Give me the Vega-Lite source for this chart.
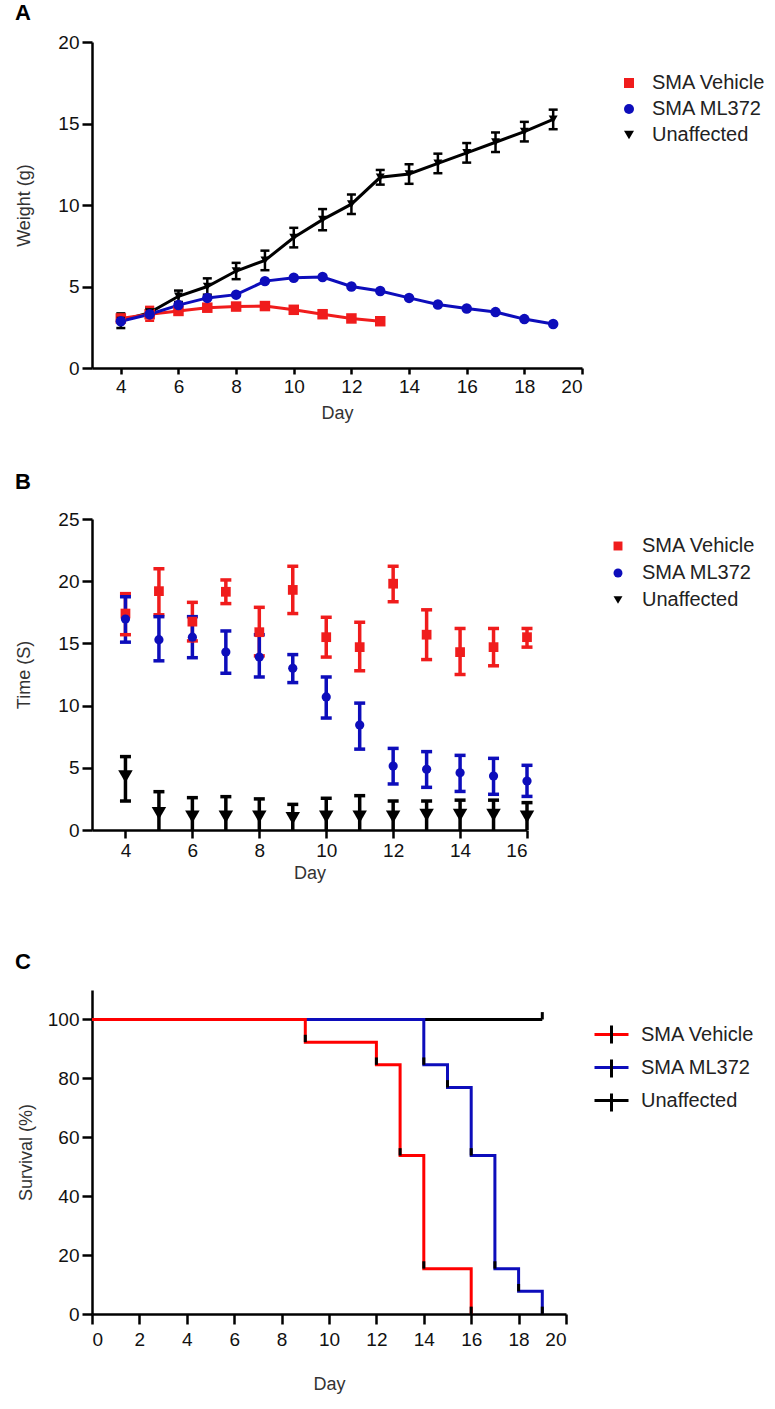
{
  "$schema": "https://vega.github.io/schema/vega-lite/v6.json",
  "background": "white",
  "padding": {"left": 15, "top": 2, "right": 5, "bottom": 5},
  "spacing": 151,
  "bounds": "flush",
  "resolve": {"scale": {"color": "independent", "shape": "independent"}, "legend": {"color": "independent", "shape": "independent"}},
  "datasets": {
    "wA": [
      {"g": "Unaffected", "day": 4, "m": 2.9, "lo": 2.45, "hi": 3.35},
      {"g": "Unaffected", "day": 5, "m": 3.4, "lo": 3.1, "hi": 3.7},
      {"g": "Unaffected", "day": 6, "m": 4.4, "lo": 4.05, "hi": 4.75},
      {"g": "Unaffected", "day": 7, "m": 5.0, "lo": 4.5, "hi": 5.5},
      {"g": "Unaffected", "day": 8, "m": 5.95, "lo": 5.45, "hi": 6.45},
      {"g": "Unaffected", "day": 9, "m": 6.6, "lo": 6.0, "hi": 7.2},
      {"g": "Unaffected", "day": 10, "m": 8.0, "lo": 7.4, "hi": 8.6},
      {"g": "Unaffected", "day": 11, "m": 9.1, "lo": 8.45, "hi": 9.75},
      {"g": "Unaffected", "day": 12, "m": 10.05, "lo": 9.45, "hi": 10.65},
      {"g": "Unaffected", "day": 13, "m": 11.7, "lo": 11.25, "hi": 12.15},
      {"g": "Unaffected", "day": 14, "m": 11.9, "lo": 11.3, "hi": 12.5},
      {"g": "Unaffected", "day": 15, "m": 12.55, "lo": 11.95, "hi": 13.15},
      {"g": "Unaffected", "day": 16, "m": 13.2, "lo": 12.6, "hi": 13.8},
      {"g": "Unaffected", "day": 17, "m": 13.85, "lo": 13.25, "hi": 14.45},
      {"g": "Unaffected", "day": 18, "m": 14.5, "lo": 13.9, "hi": 15.1},
      {"g": "Unaffected", "day": 19, "m": 15.25, "lo": 14.65, "hi": 15.85},
      {"g": "SMA Vehicle", "day": 4, "m": 3.04, "lo": 2.85, "hi": 3.25},
      {"g": "SMA Vehicle", "day": 5, "m": 3.3, "lo": 2.9, "hi": 3.75},
      {"g": "SMA Vehicle", "day": 6, "m": 3.5, "lo": 3.3, "hi": 3.7},
      {"g": "SMA Vehicle", "day": 7, "m": 3.7, "lo": 3.5, "hi": 3.9},
      {"g": "SMA Vehicle", "day": 8, "m": 3.77, "lo": 3.57, "hi": 3.97},
      {"g": "SMA Vehicle", "day": 9, "m": 3.8, "lo": 3.6, "hi": 4.0},
      {"g": "SMA Vehicle", "day": 10, "m": 3.57, "lo": 3.4, "hi": 3.75},
      {"g": "SMA Vehicle", "day": 11, "m": 3.3, "lo": 3.12, "hi": 3.48},
      {"g": "SMA Vehicle", "day": 12, "m": 3.04, "lo": 2.88, "hi": 3.2},
      {"g": "SMA Vehicle", "day": 13, "m": 2.87, "lo": 2.72, "hi": 3.02},
      {"g": "SMA ML372", "day": 4, "m": 2.87, "lo": 2.72, "hi": 3.02},
      {"g": "SMA ML372", "day": 5, "m": 3.3, "lo": 3.15, "hi": 3.45},
      {"g": "SMA ML372", "day": 6, "m": 3.86, "lo": 3.71, "hi": 4.01},
      {"g": "SMA ML372", "day": 7, "m": 4.3, "lo": 4.15, "hi": 4.45},
      {"g": "SMA ML372", "day": 8, "m": 4.5, "lo": 4.35, "hi": 4.65},
      {"g": "SMA ML372", "day": 9, "m": 5.33, "lo": 5.18, "hi": 5.48},
      {"g": "SMA ML372", "day": 10, "m": 5.54, "lo": 5.39, "hi": 5.69},
      {"g": "SMA ML372", "day": 11, "m": 5.58, "lo": 5.43, "hi": 5.73},
      {"g": "SMA ML372", "day": 12, "m": 5.0, "lo": 4.85, "hi": 5.15},
      {"g": "SMA ML372", "day": 13, "m": 4.72, "lo": 4.57, "hi": 4.87},
      {"g": "SMA ML372", "day": 14, "m": 4.3, "lo": 4.15, "hi": 4.45},
      {"g": "SMA ML372", "day": 15, "m": 3.9, "lo": 3.75, "hi": 4.05},
      {"g": "SMA ML372", "day": 16, "m": 3.65, "lo": 3.5, "hi": 3.8},
      {"g": "SMA ML372", "day": 17, "m": 3.43, "lo": 3.28, "hi": 3.58},
      {"g": "SMA ML372", "day": 18, "m": 3.0, "lo": 2.85, "hi": 3.15},
      {"g": "SMA ML372", "day": 19, "m": 2.7, "lo": 2.55, "hi": 2.85}
    ],
    "tB": [
      {"g": "Unaffected", "day": 4, "m": 4.3, "lo": 2.33, "hi": 5.9},
      {"g": "Unaffected", "day": 5, "m": 1.34, "lo": 0, "hi": 3.08},
      {"g": "Unaffected", "day": 6, "m": 1.07, "lo": 0, "hi": 2.6},
      {"g": "Unaffected", "day": 7, "m": 1.07, "lo": 0, "hi": 2.68},
      {"g": "Unaffected", "day": 8, "m": 1.07, "lo": 0, "hi": 2.5},
      {"g": "Unaffected", "day": 9, "m": 0.94, "lo": 0, "hi": 2.06},
      {"g": "Unaffected", "day": 10, "m": 1.07, "lo": 0, "hi": 2.55},
      {"g": "Unaffected", "day": 11, "m": 1.07, "lo": 0, "hi": 2.76},
      {"g": "Unaffected", "day": 12, "m": 1.07, "lo": 0, "hi": 2.33},
      {"g": "Unaffected", "day": 13, "m": 1.2, "lo": 0, "hi": 2.33},
      {"g": "Unaffected", "day": 14, "m": 1.2, "lo": 0, "hi": 2.4},
      {"g": "Unaffected", "day": 15, "m": 1.2, "lo": 0, "hi": 2.4},
      {"g": "Unaffected", "day": 16, "m": 1.07, "lo": 0, "hi": 2.2},
      {"g": "SMA Vehicle", "day": 4, "m": 17.4, "lo": 15.7, "hi": 19.0},
      {"g": "SMA Vehicle", "day": 5, "m": 19.2, "lo": 17.3, "hi": 21.0},
      {"g": "SMA Vehicle", "day": 6, "m": 16.75, "lo": 15.2, "hi": 18.3},
      {"g": "SMA Vehicle", "day": 7, "m": 19.15, "lo": 18.2, "hi": 20.1},
      {"g": "SMA Vehicle", "day": 8, "m": 15.9, "lo": 14.0, "hi": 17.9},
      {"g": "SMA Vehicle", "day": 9, "m": 19.3, "lo": 17.4, "hi": 21.2},
      {"g": "SMA Vehicle", "day": 10, "m": 15.5, "lo": 13.9, "hi": 17.1},
      {"g": "SMA Vehicle", "day": 11, "m": 14.7, "lo": 12.8, "hi": 16.7},
      {"g": "SMA Vehicle", "day": 12, "m": 19.8, "lo": 18.35, "hi": 21.2},
      {"g": "SMA Vehicle", "day": 13, "m": 15.7, "lo": 13.7, "hi": 17.7},
      {"g": "SMA Vehicle", "day": 14, "m": 14.3, "lo": 12.5, "hi": 16.2},
      {"g": "SMA Vehicle", "day": 15, "m": 14.7, "lo": 13.2, "hi": 16.2},
      {"g": "SMA Vehicle", "day": 16, "m": 15.5, "lo": 14.7, "hi": 16.2},
      {"g": "SMA ML372", "day": 4, "m": 16.96, "lo": 15.1, "hi": 18.75},
      {"g": "SMA ML372", "day": 5, "m": 15.3, "lo": 13.6, "hi": 17.15},
      {"g": "SMA ML372", "day": 6, "m": 15.5, "lo": 13.85, "hi": 17.15},
      {"g": "SMA ML372", "day": 7, "m": 14.3, "lo": 12.6, "hi": 16.0},
      {"g": "SMA ML372", "day": 8, "m": 13.9, "lo": 12.3, "hi": 15.7},
      {"g": "SMA ML372", "day": 9, "m": 13.0, "lo": 11.85, "hi": 14.1},
      {"g": "SMA ML372", "day": 10, "m": 10.7, "lo": 9.0, "hi": 12.3},
      {"g": "SMA ML372", "day": 11, "m": 8.44, "lo": 6.5, "hi": 10.2},
      {"g": "SMA ML372", "day": 12, "m": 5.14, "lo": 3.7, "hi": 6.56},
      {"g": "SMA ML372", "day": 13, "m": 4.88, "lo": 3.43, "hi": 6.3},
      {"g": "SMA ML372", "day": 14, "m": 4.6, "lo": 3.1, "hi": 6.0},
      {"g": "SMA ML372", "day": 15, "m": 4.34, "lo": 2.87, "hi": 5.76},
      {"g": "SMA ML372", "day": 16, "m": 3.94, "lo": 2.7, "hi": 5.2}
    ],
    "sC": [
      {"g": "Unaffected", "day": 0, "s": 100},
      {"g": "Unaffected", "day": 19, "s": 100},
      {"g": "SMA ML372", "day": 0, "s": 100},
      {"g": "SMA ML372", "day": 14, "s": 84.6},
      {"g": "SMA ML372", "day": 15, "s": 76.9},
      {"g": "SMA ML372", "day": 16, "s": 53.8},
      {"g": "SMA ML372", "day": 17, "s": 15.4},
      {"g": "SMA ML372", "day": 18, "s": 7.7},
      {"g": "SMA ML372", "day": 19, "s": 0},
      {"g": "SMA Vehicle", "day": 0, "s": 100},
      {"g": "SMA Vehicle", "day": 9, "s": 92.3},
      {"g": "SMA Vehicle", "day": 12, "s": 84.6},
      {"g": "SMA Vehicle", "day": 13, "s": 53.8},
      {"g": "SMA Vehicle", "day": 14, "s": 15.4},
      {"g": "SMA Vehicle", "day": 16, "s": 0}
    ],
    "cC": [
      {"day": 9, "lo": 92.3, "hi": 94.8},
      {"day": 12, "lo": 84.6, "hi": 87.1},
      {"day": 13, "lo": 53.8, "hi": 56.3},
      {"day": 14, "lo": 15.4, "hi": 17.9},
      {"day": 16, "lo": 0, "hi": 2.5},
      {"day": 14, "lo": 84.6, "hi": 87.1},
      {"day": 15, "lo": 76.9, "hi": 79.4},
      {"day": 16, "lo": 53.8, "hi": 56.3},
      {"day": 17, "lo": 15.4, "hi": 17.9},
      {"day": 18, "lo": 7.7, "hi": 10.2},
      {"day": 19, "lo": 0, "hi": 2.5},
      {"day": 19, "lo": 100, "hi": 102.5}
    ],
    "lC": [
      {"h": "SMA Vehicle", "day": 0, "s": 0},
      {"h": "SMA ML372", "day": 0, "s": 0},
      {"h": "Unaffected", "day": 0, "s": 0}
    ]
  },
  "vconcat": [
    {
      "title": {"text": "A", "dx": -77, "offset": 8},
      "width": 490,
      "height": 326,
      "data": {"name": "wA"},
      "encoding": {
        "x": {"field": "day", "type": "quantitative", "scale": {"domain": [3, 20], "nice": false, "zero": false},
              "axis": {"values": [4, 6, 8, 10, 12, 14, 16, 18, 20], "title": "Day", "tickSize": 6, "titlePadding": 8}},
        "color": {"field": "g", "type": "nominal", "scale": {"domain": ["SMA Vehicle", "SMA ML372", "Unaffected"], "range": ["#f01c1c", "#0d0dbb", "#000000"]},
                  "legend": {"title": null, "orient": "none", "legendX": 527, "legendY": 31, "labelFontSize": 20, "labelColor": "#222", "symbolSize": 100, "rowPadding": 6, "padding": 0, "labelOffset": 13, "symbolStrokeWidth": 0, "symbolOpacity": 1}},
        "shape": {"field": "g", "type": "nominal", "scale": {"domain": ["SMA Vehicle", "SMA ML372", "Unaffected"], "range": ["square", "circle", "triangle-down"]},
                  "legend": {"title": null, "orient": "none", "legendX": 527, "legendY": 31, "labelFontSize": 20, "labelColor": "#222", "symbolSize": 100, "rowPadding": 6, "padding": 0, "labelOffset": 13, "symbolStrokeWidth": 0, "symbolOpacity": 1}}
      },
      "layer": [
        {
          "mark": {"type": "line", "strokeWidth": 3},
          "encoding": {
            "y": {"field": "m", "type": "quantitative", "scale": {"domain": [0, 20], "nice": false},
                  "axis": {"values": [0, 5, 10, 15, 20], "title": "Weight (g)", "tickSize": 10, "titlePadding": 24}},
            "shape": null
          }
        },
        {
          "mark": {"type": "rule", "strokeWidth": 2.5, "opacity": 1},
          "transform": [{"filter": "datum.g != 'SMA ML372'"}],
          "encoding": {"y": {"field": "lo", "type": "quantitative"}, "y2": {"field": "hi"}, "shape": null}
        },
        {
          "mark": {"type": "tick", "orient": "horizontal", "size": 9, "thickness": 2.5, "opacity": 1},
          "transform": [{"filter": "datum.g != 'SMA ML372'"}, {"fold": ["lo", "hi"], "as": ["k", "v"]}],
          "encoding": {"y": {"field": "v", "type": "quantitative"}, "shape": null}
        },
        {
          "mark": {"type": "point", "filled": true, "opacity": 1, "size": 110},
          "transform": [{"filter": "datum.g == 'SMA Vehicle'"}],
          "encoding": {"y": {"field": "m", "type": "quantitative"}}
        },
        {
          "mark": {"type": "point", "filled": true, "opacity": 1, "size": 80},
          "transform": [{"filter": "datum.g == 'Unaffected'"}],
          "encoding": {"y": {"field": "m", "type": "quantitative"}}
        },
        {
          "mark": {"type": "point", "filled": true, "opacity": 1, "size": 110},
          "transform": [{"filter": "datum.g == 'SMA ML372'"}],
          "encoding": {"y": {"field": "m", "type": "quantitative"}}
        }
      ]
    },
    {
      "spacing": 160,
      "bounds": "flush",
      "resolve": {"scale": {"color": "independent", "shape": "independent", "stroke": "independent"}, "legend": {"color": "independent", "shape": "independent", "stroke": "independent"}},
      "vconcat": [
        {
          "title": {"text": "B", "dx": -77, "offset": 16},
          "width": 435,
          "height": 311,
          "data": {"name": "tB"},
          "encoding": {
            "x": {"field": "day", "type": "quantitative", "scale": {"domain": [3, 16], "nice": false, "zero": false},
                  "axis": {"values": [4, 6, 8, 10, 12, 14, 16], "title": "Day", "tickSize": 8, "titlePadding": 4}},
            "color": {"field": "g", "type": "nominal", "scale": {"domain": ["SMA Vehicle", "SMA ML372", "Unaffected"], "range": ["#f01c1c", "#0d0dbb", "#000000"]},
                      "legend": {"title": null, "orient": "none", "legendX": 516, "legendY": 17, "labelFontSize": 20, "labelColor": "#222", "symbolSize": 80, "rowPadding": 7, "padding": 0, "labelOffset": 14, "symbolStrokeWidth": 0, "symbolOpacity": 1}},
            "shape": {"field": "g", "type": "nominal", "scale": {"domain": ["SMA Vehicle", "SMA ML372", "Unaffected"], "range": ["square", "circle", "triangle-down"]},
                      "legend": {"title": null, "orient": "none", "legendX": 516, "legendY": 17, "labelFontSize": 20, "labelColor": "#222", "symbolSize": 80, "rowPadding": 7, "padding": 0, "labelOffset": 14, "symbolStrokeWidth": 0, "symbolOpacity": 1}}
          },
          "layer": [
            {
              "mark": {"type": "rule", "strokeWidth": 3.5, "opacity": 1},
              "encoding": {
                "y": {"field": "lo", "type": "quantitative", "scale": {"domain": [0, 25], "nice": false},
                      "axis": {"values": [0, 5, 10, 15, 20, 25], "title": "Time (S)", "tickSize": 10, "titlePadding": 24}},
                "y2": {"field": "hi"},
                "shape": null
              }
            },
            {
              "mark": {"type": "tick", "orient": "horizontal", "size": 11, "thickness": 3.5, "opacity": 1},
              "transform": [{"fold": ["lo", "hi"], "as": ["k", "v"]}, {"filter": "datum.v > 0"}],
              "encoding": {"y": {"field": "v", "type": "quantitative"}, "shape": null}
            },
            {
              "mark": {"type": "point", "filled": true, "opacity": 1, "size": 95},
              "transform": [{"filter": "datum.g == 'SMA Vehicle'"}],
              "encoding": {"y": {"field": "m", "type": "quantitative"}}
            },
            {
              "mark": {"type": "point", "filled": true, "opacity": 1, "size": 85},
              "transform": [{"filter": "datum.g == 'SMA ML372'"}],
              "encoding": {"y": {"field": "m", "type": "quantitative"}}
            },
            {
              "mark": {"type": "point", "filled": true, "opacity": 1, "size": 210},
              "transform": [{"filter": "datum.g == 'Unaffected'"}],
              "encoding": {"y": {"field": "m", "type": "quantitative"}}
            }
          ]
        },
        {
          "title": {"text": "C", "dx": -77, "offset": 16},
          "width": 474,
          "height": 324,
          "layer": [
            {
              "data": {"name": "sC"},
              "mark": {"type": "line", "interpolate": "step-after", "strokeWidth": 3},
              "encoding": {
                "x": {"field": "day", "type": "quantitative", "scale": {"domain": [0, 20], "nice": false},
                      "axis": {"values": [0, 2, 4, 6, 8, 10, 12, 14, 16, 18, 20], "title": "Day", "tickSize": 10, "labelPadding": 6, "titlePadding": 26}},
                "y": {"field": "s", "type": "quantitative", "scale": {"domain": [0, 110], "nice": false},
                      "axis": {"values": [0, 20, 40, 60, 80, 100], "title": "Survival (%)", "tickSize": 10, "titlePadding": 12}},
                "stroke": {"field": "g", "type": "nominal", "scale": {"domain": ["SMA Vehicle", "SMA ML372", "Unaffected"], "range": ["#ff0000", "#0d0dbb", "#000000"]},
                           "legend": {"title": null, "orient": "none", "legendX": 501, "legendY": 26, "labelFontSize": 20, "labelColor": "#222", "symbolType": "M-1,0H1", "symbolSize": 1156, "symbolStrokeWidth": 3, "rowPadding": 4, "padding": 0, "labelOffset": 11}}
              }
            },
            {
              "data": {"name": "cC"},
              "mark": {"type": "rule", "strokeWidth": 3, "color": "#000"},
              "encoding": {
                "x": {"field": "day", "type": "quantitative"},
                "y": {"field": "lo", "type": "quantitative"},
                "y2": {"field": "hi"}
              }
            },
            {
              "data": {"name": "lC"},
              "mark": {"type": "point", "filled": false, "opacity": 0, "color": "#000"},
              "encoding": {
                "x": {"field": "day", "type": "quantitative"},
                "y": {"field": "s", "type": "quantitative"},
                "shape": {"field": "h", "type": "nominal", "sort": null, "scale": {"range": ["M0,-0.53V0.53", "M0,-0.53V0.53", "M0,-0.53V0.53"]},
                          "legend": {"title": null, "orient": "none", "legendX": 501, "legendY": 26, "labelFontSize": 20, "labelExpr": "' '", "labelOpacity": 0, "symbolSize": 1156, "symbolStrokeWidth": 3, "symbolStrokeColor": "#000", "symbolFillColor": "transparent", "symbolOpacity": 1, "rowPadding": -1, "padding": 0, "labelOffset": 11}}
              }
            }
          ]
        }
      ]
    }
  ],
  "config": {
    "font": "Liberation Sans",
    "view": {"stroke": null},
    "title": {"fontSize": 22, "fontWeight": "bold", "anchor": "start", "frame": "group", "color": "#000"},
    "axis": {"domainColor": "#000", "domainWidth": 2.5, "tickColor": "#000", "tickWidth": 2.5, "labelFontSize": 19, "labelColor": "#111", "labelPadding": 3, "titleFontSize": 18, "titleColor": "#333", "titleFontWeight": "normal", "grid": false, "labelFont": "Liberation Sans", "titleFont": "Liberation Sans"},
    "legend": {"labelFont": "Liberation Sans"}
  }
}
